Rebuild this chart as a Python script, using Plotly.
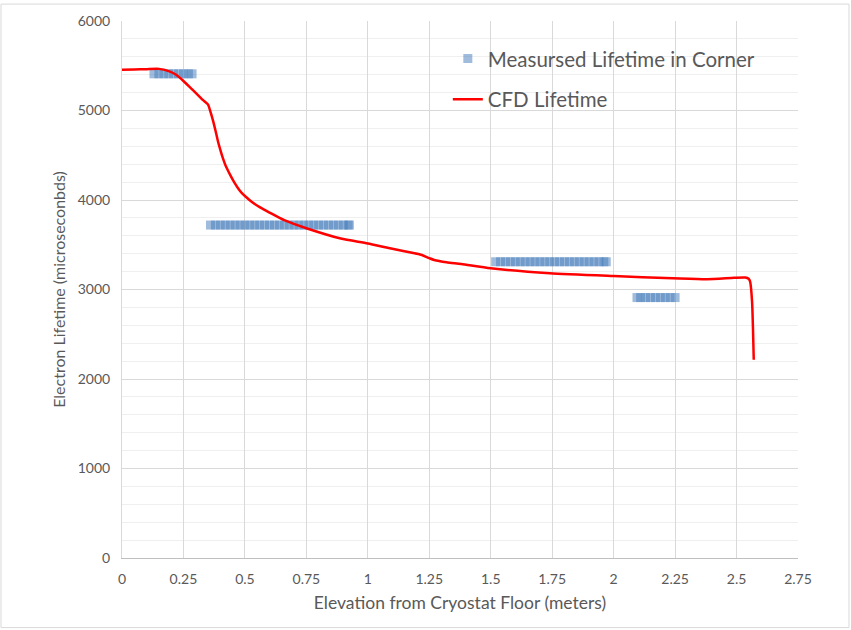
import plotly.graph_objects as go

# Measured electron lifetime in the cryostat corner (elevation in m, lifetime in microseconds)
meas_x_low = [0.13, 0.15, 0.17, 0.19, 0.21, 0.23, 0.25, 0.27, 0.285]
meas_y_low = [5410] * len(meas_x_low)

meas_x_mid = [0.36, 0.38, 0.40, 0.42, 0.44, 0.46, 0.48, 0.50, 0.52, 0.54,
              0.56, 0.58, 0.60, 0.62, 0.64, 0.66, 0.68, 0.70, 0.72, 0.74,
              0.76, 0.78, 0.80, 0.82, 0.84, 0.86, 0.88, 0.90, 0.92, 0.925]
meas_y_mid = [3720] * len(meas_x_mid)

meas_x_high = [1.52, 1.54, 1.56, 1.58, 1.60, 1.62, 1.64, 1.66, 1.68, 1.70,
               1.72, 1.74, 1.76, 1.78, 1.80, 1.82, 1.84, 1.86, 1.88, 1.90,
               1.92, 1.94, 1.96, 1.97]
meas_y_high = [3310] * len(meas_x_high)

meas_x_top = [2.095, 2.11, 2.13, 2.15, 2.17, 2.19, 2.21, 2.23, 2.25]
meas_y_top = [2910] * len(meas_x_top)

meas_x = meas_x_low + meas_x_mid + meas_x_high + meas_x_top
meas_y = meas_y_low + meas_y_mid + meas_y_high + meas_y_top

# CFD-predicted lifetime profile
cfd_x = [0, 0.05, 0.10, 0.15, 0.19, 0.22, 0.25, 0.28, 0.31, 0.33, 0.35, 0.36,
         0.37, 0.38, 0.39, 0.40, 0.41, 0.42, 0.43, 0.44, 0.455, 0.47, 0.485,
         0.50, 0.53, 0.56, 0.60, 0.66, 0.75, 0.89, 1.00, 1.09, 1.19, 1.22, 1.25,
         1.27, 1.32, 1.38, 1.50, 1.74, 2.00, 2.24, 2.38, 2.49, 2.536, 2.549,
         2.555, 2.563, 2.57]
cfd_y = [5455, 5458, 5462, 5465, 5440, 5400, 5330, 5250, 5170, 5115, 5065, 4985,
         4890, 4780, 4660, 4560, 4470, 4395, 4335, 4280, 4205, 4140, 4085,
         4045, 3975, 3920, 3860, 3775, 3685, 3570, 3515, 3460, 3405, 3385, 3350,
         3330, 3304, 3285, 3237, 3181, 3150, 3126, 3115, 3130, 3133, 3120,
         3090, 2870, 2215]

x_ticks = [0, 0.25, 0.5, 0.75, 1, 1.25, 1.5, 1.75, 2, 2.25, 2.5, 2.75]
x_tick_text = ["0", "0.25", "0.5", "0.75", "1", "1.25", "1.5", "1.75", "2", "2.25", "2.5", "2.75"]
y_ticks = [0, 1000, 2000, 3000, 4000, 5000, 6000]

FONT = "Lato, 'Open Sans', sans-serif"
TEXT = "#595959"

fig = go.Figure()

fig.add_trace(go.Scatter(
    x=meas_x, y=meas_y, mode="markers", name="Measursed Lifetime in Corner",
    legendgroup="a",
    marker=dict(symbol="square", size=9, color="rgba(65,122,185,0.5)",
                line=dict(width=0)),
))

fig.add_trace(go.Scatter(
    x=cfd_x, y=cfd_y, mode="lines", name="CFD Lifetime",
    legendgroup="b",
    line=dict(color="#ff0000", width=2.5, shape="spline", smoothing=0.6),
))

fig.update_layout(
    width=851, height=630,
    margin=dict(l=122, r=53, t=18, b=72),
    paper_bgcolor="white", plot_bgcolor="white",
    font=dict(family=FONT, color=TEXT, size=14),
    legend=dict(x=0.482, y=0.967, xanchor="left", yanchor="top",
                bgcolor="rgba(0,0,0,0)", borderwidth=0,
                font=dict(size=20.5, color=TEXT), tracegroupgap=11),
    xaxis=dict(range=[0, 2.75], tickvals=x_ticks, ticktext=x_tick_text,
               showgrid=True, gridcolor="#d9d9d9", gridwidth=1,
               zeroline=False, showline=True, linecolor="#bfbfbf",
               ticks="outside", ticklen=8, tickcolor="rgba(0,0,0,0)",
               tickfont=dict(size=14, color=TEXT),
               title=dict(text="Elevation from Cryostat Floor (meters)",
                          font=dict(size=17.5, color=TEXT), standoff=10)),
    yaxis=dict(range=[0, 6000], tickvals=y_ticks,
               showgrid=True, gridcolor="#d9d9d9", gridwidth=1,
               minor=dict(dtick=200, showgrid=True, gridcolor="#efefef", gridwidth=1),
               zeroline=False, showline=True, linecolor="#d9d9d9",
               ticks="outside", ticklen=8, tickcolor="rgba(0,0,0,0)",
               tickfont=dict(size=14, color=TEXT),
               title=dict(text="Electron Lifetime (microseconbds)",
                          font=dict(size=16, color=TEXT), standoff=8)),
    shapes=[dict(type="rect", xref="paper", yref="paper",
                 x0=-0.179, x1=1.0754, y0=-0.1296, y1=1.0315,
                 line=dict(color="#d9d9d9", width=1), fillcolor="rgba(0,0,0,0)",
                 layer="below")],
)

fig.write_html("out.html")
